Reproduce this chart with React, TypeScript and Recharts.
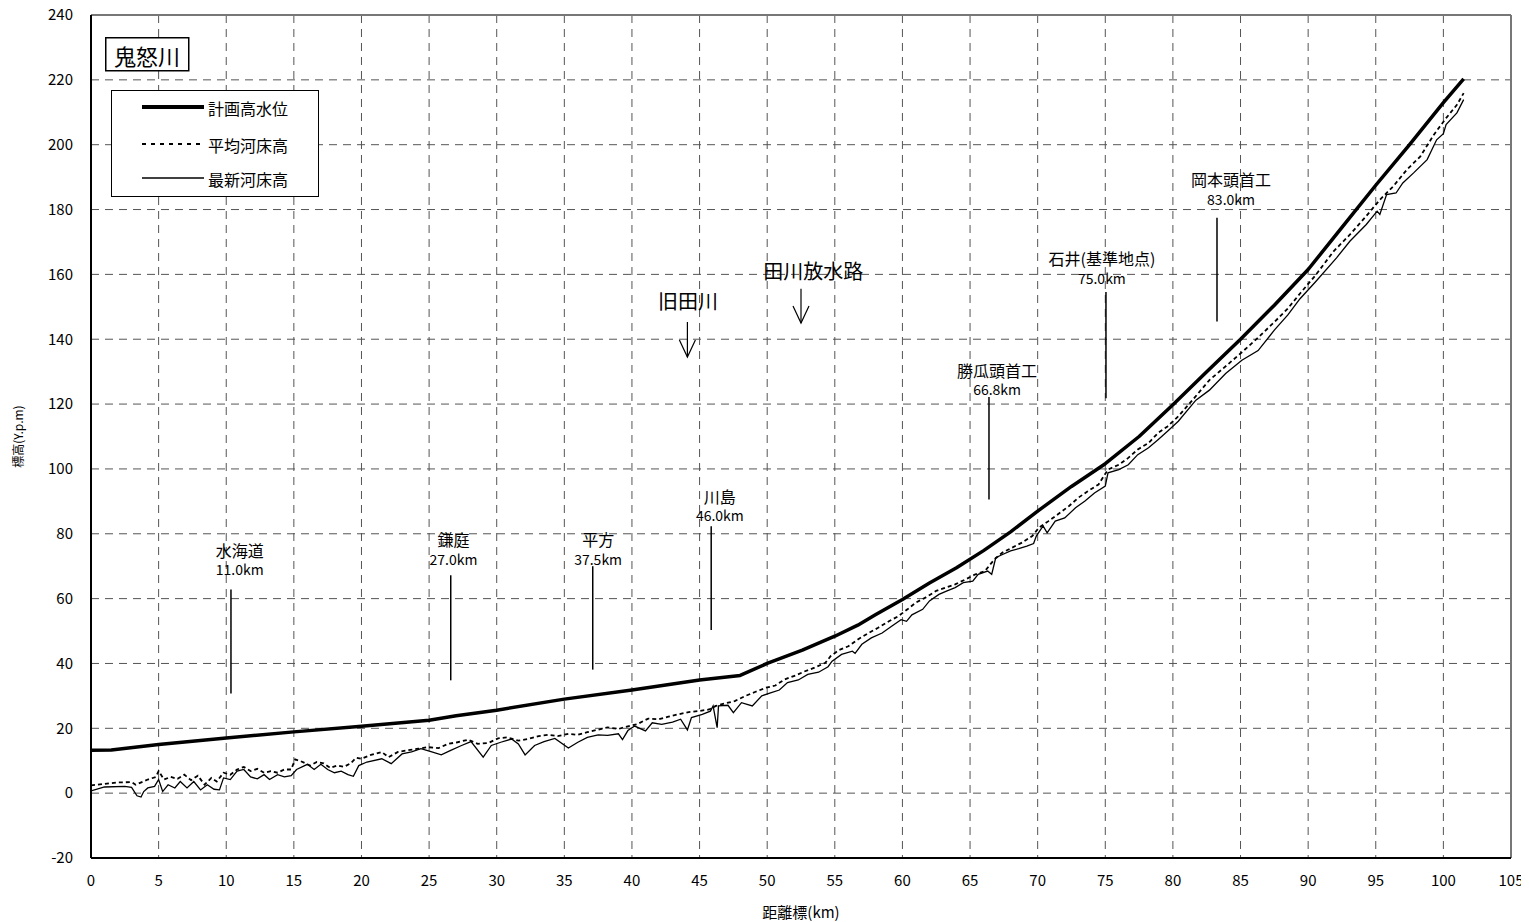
import React from 'react';
import { LineChart, Line, XAxis, YAxis, CartesianGrid, ReferenceLine, ReferenceDot, Legend } from 'recharts';

const FONT = "'Noto Sans CJK JP', 'Noto Sans', sans-serif";

// Axis ticks
const X_TICKS = [0, 5, 10, 15, 20, 25, 30, 35, 40, 45, 50, 55, 60, 65, 70, 75, 80, 85, 90, 95, 100, 105];
const Y_TICKS = [-20, 0, 20, 40, 60, 80, 100, 120, 140, 160, 180, 200, 220, 240];

// 計画高水位
const hwlKm = [0, 1.5, 5, 10, 15, 20, 25, 27, 30, 35, 40, 45, 48, 50, 52.6, 55, 56.7, 58, 60, 62, 64, 66, 68, 70, 72.5, 75, 77.5, 80, 82.5, 85, 87.5, 90, 92.5, 95, 97.5, 100, 101.5];
const hwlVal = [13.2, 13.3, 15.0, 17.0, 18.9, 20.6, 22.5, 23.9, 25.6, 29.0, 31.8, 34.9, 36.3, 40.0, 44.1, 48.4, 51.8, 55.0, 59.7, 64.8, 69.5, 74.8, 80.6, 87.0, 94.6, 101.6, 110.0, 119.8, 130.0, 140.0, 150.5, 161.5, 174.5, 187.5, 200.0, 213.0, 220.3];

// 平均河床高
const avgKm = [0, 2.0, 3.0, 3.3, 4.2, 4.8, 5.0, 5.4, 5.9, 6.4, 6.9, 7.4, 7.9, 8.4, 8.9, 9.3, 9.8, 10.3, 10.8, 11.3, 11.8, 12.3, 12.8, 13.3, 13.8, 14.3, 14.8, 15.1, 15.5, 16.2, 16.7, 17.2, 17.7, 18.2, 18.7, 19.2, 19.6, 20.0,
  20.7, 21.5, 22.0, 22.7, 23.4, 24.2, 24.9, 25.7, 26.4, 27.1, 27.9, 28.6, 29.4, 30.1, 30.8, 31.6, 32.3, 33.1, 33.8, 34.5, 35.3, 36.0, 36.7, 37.5, 38.2, 39.0, 39.7, 40.4,
  41.2, 42.0, 42.7, 43.4, 44.2, 44.9, 45.7, 46.2, 46.9, 47.6, 48.4, 49.1, 49.9, 50.6, 51.3, 52.1, 52.8, 53.5, 54.3, 54.7, 55.3, 56.0, 56.7, 57.5, 58.2, 59.0, 59.7, 60.4,
  61.0, 61.7, 62.5, 63.2, 63.9, 64.7, 65.4, 66.1, 66.8, 67.4, 68.1, 68.8, 69.6, 70.1, 70.8, 71.5, 72.3, 73.0, 73.7, 74.5, 75.2, 76.0, 76.7, 77.4, 78.2, 78.9, 79.6, 80.4,
  81.5, 82.7, 84.0, 85.1, 86.3, 87.5, 88.5, 89.4, 90.5, 91.9, 93.1, 94.3, 95.3, 96.3, 97.3, 98.3, 99.3, 100.2, 101.0, 101.5];
const avgVal = [2.4, 3.3, 3.4, 2.6, 4.2, 5.0, 6.8, 4.2, 5.0, 4.4, 5.7, 4.0, 5.4, 2.6, 4.7, 3.6, 6.3, 5.7, 7.3, 8.1, 6.8, 7.5, 6.3, 6.8, 6.3, 7.3, 7.3, 10.4, 9.9, 8.5, 9.6, 9.2, 7.8, 8.5, 8.1, 9.2, 10.9, 10.6,
  11.8, 12.7, 11.1, 12.7, 13.2, 13.7, 14.2, 13.9, 15.2, 15.7, 16.5, 15.2, 15.5, 16.9, 17.2, 16.2, 16.7, 17.6, 18.0, 17.6, 18.3, 18.0, 18.8, 19.6, 20.3, 19.8, 20.6, 21.3,
  23.0, 22.8, 23.6, 24.3, 25.0, 25.3, 25.8, 26.9, 27.7, 28.4, 30.0, 31.2, 32.5, 33.2, 35.1, 36.3, 37.6, 38.7, 40.2, 42.3, 44.1, 45.3, 47.4, 49.4, 51.0, 53.0, 54.6, 56.8,
  58.8, 60.3, 62.4, 63.4, 64.4, 66.0, 67.5, 68.5, 72.1, 74.2, 75.7, 77.2, 79.3, 81.9, 83.9, 86.0, 88.5, 91.1, 93.1, 95.2, 99.8, 101.3, 103.4, 106.0, 108.0, 111.1, 113.1, 116.2,
  121.5, 127.4, 132.0, 136.0, 140.5, 145.3, 149.5, 154.1, 159.5, 167.2, 172.3, 178.0, 183.0, 187.2, 192.3, 196.4, 203.1, 208.2, 212.3, 215.9];

// 最新河床高
const newKm = [0, 1.0, 2.5, 3.0, 3.4, 3.7, 3.9, 4.2, 4.7, 5.0, 5.3, 5.7, 6.2, 6.6, 7.1, 7.6, 8.1, 8.6, 9.1, 9.5, 9.8, 10.3, 10.8, 11.3, 11.8, 12.3, 12.8, 13.2, 13.8, 14.3, 14.8, 15.2, 16.0, 16.5, 17.0, 17.5, 18.0, 18.5, 19.0, 19.4, 19.8, 20.4,
  21.5, 22.2, 23.0, 23.7, 24.4, 25.2, 25.9, 26.6, 27.4, 28.1, 29.0, 29.6, 30.3, 31.1, 31.6, 32.1, 32.8, 33.5, 34.3, 35.3, 36.0, 36.7, 37.5, 38.2, 39.0, 39.3, 39.7, 40.2,
  41.0, 41.5, 42.2, 43.0, 43.6, 44.1, 44.4, 45.2, 45.8, 46.0, 46.3, 46.4, 47.1, 47.5, 48.1, 48.9, 49.6, 50.3, 50.9, 51.5, 52.3, 53.0, 53.8, 54.5, 54.8, 55.5, 56.3, 56.5, 57.0, 57.7, 58.5, 59.2, 59.9, 60.3, 60.7,
  61.5, 62.0, 62.7, 63.3, 63.9, 64.5, 65.2, 65.6, 66.3, 66.6, 66.9, 67.4, 68.0, 68.6, 69.2, 69.7, 69.9, 70.4, 70.7, 71.3, 72.0, 72.8, 73.5, 74.2, 75.0, 75.2, 76.0, 76.7, 77.4, 78.2, 78.9, 79.6, 80.4,
  81.7, 82.7, 83.9, 85.1, 86.3, 87.5, 88.5, 89.4, 90.5, 92.1, 93.1, 94.3, 95.1, 95.3, 95.8, 96.5, 97.0, 97.8, 98.8, 99.5, 100.0, 100.2, 101.0, 101.5];
const newVal = [0.7, 1.9, 2.1, 1.8, -0.8, -1.2, 0.5, 1.6, 2.1, 4.2, 0.5, 2.6, 1.6, 3.6, 1.6, 3.6, 1.0, 2.6, 1.2, 1.0, 4.7, 4.2, 6.8, 7.3, 5.0, 4.4, 5.7, 4.2, 5.7, 5.0, 5.4, 7.3, 8.9, 7.3, 8.9, 7.3, 6.3, 6.8, 5.7, 5.2, 8.5, 9.6,
  10.6, 9.1, 12.1, 12.7, 13.7, 12.7, 11.8, 13.2, 14.7, 15.9, 11.1, 14.7, 15.7, 16.7, 15.2, 11.8, 14.7, 15.9, 16.9, 13.9, 15.7, 17.2, 18.0, 17.8, 18.3, 16.5, 19.3, 20.7,
  19.2, 21.7, 21.2, 21.9, 22.8, 19.5, 23.3, 24.3, 25.3, 26.9, 20.2, 26.9, 27.1, 24.8, 27.9, 26.9, 30.0, 31.0, 31.8, 34.1, 34.9, 36.6, 37.3, 39.0, 40.7, 42.8, 43.8, 43.1, 45.9, 47.9, 49.4, 51.5, 53.5, 53.0, 55.0,
  56.7, 59.3, 61.3, 62.4, 63.4, 64.9, 65.4, 67.5, 68.5, 67.5, 72.6, 73.6, 74.7, 75.4, 76.2, 77.0, 79.3, 82.4, 80.3, 83.9, 84.9, 88.0, 90.1, 92.6, 94.7, 98.8, 99.8, 101.3, 104.4, 106.5, 109.0, 111.6, 114.7,
  121.2, 124.3, 129.4, 133.5, 136.5, 142.8, 147.5, 152.5, 157.5, 165.1, 170.3, 175.4, 179.5, 178.5, 184.6, 185.1, 188.2, 191.3, 195.4, 201.5, 203.4, 206.2, 209.8, 213.9];

// 地点注記
const markerNames = ['水海道', '鎌庭', '平方', '川島', '勝瓜頭首工', '石井(基準地点)', '岡本頭首工'];
const markerKmLabels = ['11.0km', '27.0km', '37.5km', '46.0km', '66.8km', '75.0km', '83.0km'];
const markerLineKm = [10.35, 26.6, 37.1, 45.86, 66.4, 75.05, 83.26];
const markerTop = [62.8, 67.2, 70.0, 82.3, 122.2, 154.6, 177.5];
const markerBottom = [30.7, 34.8, 38.1, 50.3, 90.6, 121.8, 145.5];
const markerLabelKm = [11.0, 26.8, 37.5, 46.5, 67.0, 74.75, 84.3];
const markerNameY = [74.9, 78.3, 78.3, 91.7, 130.4, 164.9, 189.3];
const markerKmY = [69.1, 72.2, 72.2, 85.7, 124.5, 159.0, 183.2];

// 合流矢印
const arrowNames = ['旧田川', '田川放水路'];
const arrowKm = [44.1, 52.5];
const arrowTop = [145.3, 155.6];
const arrowTip = [134.5, 145.0];
const arrowLabelKm = [44.15, 53.4];
const arrowLabelY = [152.0, 161.1];

const toSeries = (km: number[], v: number[]) => km.map((k, i) => ({ km: k, v: v[i] }));
const hwlData = toSeries(hwlKm, hwlVal);
const avgData = toSeries(avgKm, avgVal);
const newData = toSeries(newKm, newVal);

const textShape = (text: string, size: number) => (props: any) => (
  <text x={props.cx} y={props.cy} textAnchor="middle" dominantBaseline="central" fontSize={size} fontFamily={FONT} fill="#000">{text}</text>
);

const arrowHead = (props: any) => (
  <polyline points={`${props.cx - 8},${props.cy - 17} ${props.cx},${props.cy} ${props.cx + 8},${props.cy - 17}`} fill="none" stroke="#000" strokeWidth={1.2} />
);

const renderLegend = () => (
  <svg width={220} height={165} style={{ display: 'block' }}>
    <rect x={0.75} y={0.75} width={83} height={33} fill="#fff" stroke="#000" strokeWidth={1.5} />
    <text x={42} y={18} textAnchor="middle" dominantBaseline="central" fontSize={22} fontFamily={FONT} fill="#000">鬼怒川</text>
    <rect x={6.5} y={53.5} width={207} height={106} fill="#fff" stroke="#000" strokeWidth={1} />
    <line x1={37} x2={99} y1={70} y2={70} stroke="#000" strokeWidth={4} />
    <line x1={37} x2={99} y1={107} y2={107} stroke="#000" strokeWidth={2} strokeDasharray="4 5" />
    <line x1={37} x2={99} y1={141} y2={141} stroke="#000" strokeWidth={1.5} />
    <text x={103} y={71} dominantBaseline="central" fontSize={16} fontFamily={FONT} fill="#000">計画高水位</text>
    <text x={103} y={108} dominantBaseline="central" fontSize={16} fontFamily={FONT} fill="#000">平均河床高</text>
    <text x={103} y={142} dominantBaseline="central" fontSize={16} fontFamily={FONT} fill="#000">最新河床高</text>
  </svg>
);

export default function App() {
  return (
    <div style={{ position: 'relative', left: -8, top: -8, width: 1529, height: 922, background: '#fff' }}>
      <LineChart width={1529} height={922} margin={{ top: 15, right: 18, bottom: 0, left: 11 }}>
        <CartesianGrid stroke="#555" strokeDasharray="8 6" strokeWidth={1} />
        <XAxis
          dataKey="km"
          type="number"
          domain={[0, 105]}
          ticks={X_TICKS}
          height={64}
          tickSize={0}
          tickMargin={17}
          axisLine={{ stroke: '#000', strokeWidth: 2 }}
          tick={{ fontSize: 15, fill: '#000', fontFamily: FONT }}
          allowDataOverflow
          label={{ value: '距離標(km)', position: 'insideBottom', offset: 4, fontSize: 15, fill: '#000', fontFamily: FONT }}
        />
        <YAxis
          type="number"
          domain={[-20, 240]}
          ticks={Y_TICKS}
          width={80}
          tickSize={0}
          tickMargin={18}
          axisLine={{ stroke: '#000', strokeWidth: 2 }}
          tick={{ fontSize: 15, fill: '#000', fontFamily: FONT }}
          allowDataOverflow
          label={{ value: '標高(Y.p.m)', angle: -90, position: 'insideLeft', offset: 8, fontSize: 12, fill: '#000', fontFamily: FONT, style: { textAnchor: 'middle' } }}
        />
        <ReferenceLine y={240} stroke="#777" strokeWidth={2} />
        <ReferenceLine x={105} stroke="#777" strokeWidth={2} />
        {markerNames.map((n, i) => (
          <ReferenceLine key={'ml' + i} segment={[{ x: markerLineKm[i], y: markerBottom[i] }, { x: markerLineKm[i], y: markerTop[i] }]} stroke="#000" strokeWidth={1.5} />
        ))}
        {markerNames.map((n, i) => (
          <ReferenceDot key={'mn' + i} x={markerLabelKm[i]} y={markerNameY[i]} r={0} shape={textShape(n, 16)} />
        ))}
        {markerKmLabels.map((n, i) => (
          <ReferenceDot key={'mk' + i} x={markerLabelKm[i]} y={markerKmY[i]} r={0} shape={textShape(n, 14)} />
        ))}
        {arrowNames.map((n, i) => (
          <ReferenceLine key={'al' + i} segment={[{ x: arrowKm[i], y: arrowTop[i] }, { x: arrowKm[i], y: arrowTip[i] }]} stroke="#000" strokeWidth={1.2} />
        ))}
        {arrowNames.map((n, i) => (
          <ReferenceDot key={'ah' + i} x={arrowKm[i]} y={arrowTip[i]} r={0} shape={arrowHead} />
        ))}
        {arrowNames.map((n, i) => (
          <ReferenceDot key={'at' + i} x={arrowLabelKm[i]} y={arrowLabelY[i]} r={0} shape={textShape(n, 20)} />
        ))}
        <Line data={newData} dataKey="v" name="最新河床高" type="linear" dot={false} stroke="#000" strokeWidth={1.3} isAnimationActive={false} />
        <Line data={avgData} dataKey="v" name="平均河床高" type="linear" dot={false} stroke="#000" strokeWidth={1.8} strokeDasharray="4 3" isAnimationActive={false} />
        <Line data={hwlData} dataKey="v" name="計画高水位" type="linear" dot={false} stroke="#000" strokeWidth={3.5} strokeLinejoin="round" isAnimationActive={false} />
        <Legend
          content={renderLegend}
          layout="horizontal"
          verticalAlign="middle"
          align="center"
          wrapperStyle={{ position: 'absolute', left: 105, top: 37, width: 220, height: 165 }}
        />
      </LineChart>
    </div>
  );
}
